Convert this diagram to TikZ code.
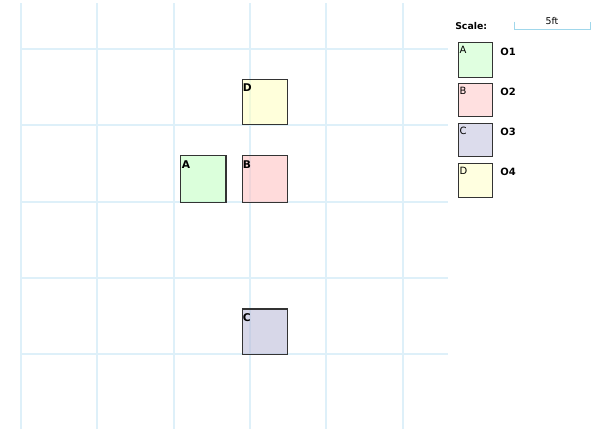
\documentclass[tikz,border=0pt]{standalone}
\usepackage{fontspec}
\setmainfont{DejaVu Sans}
\begin{document}
\begin{tikzpicture}[x=0.75pt,y=-0.75pt,
  gridline/.style={draw={rgb,255:red,222;green,240;blue,249},line width=1.5pt},
  room/.style={draw={rgb,255:red,51;green,51;blue,51},line width=0.9pt,fill opacity=0.55},
  roomlabel/.style={anchor=north west,inner sep=0pt,font=\fontsize{8}{9}\selectfont\bfseries},
  keybox/.style={draw={rgb,255:red,51;green,51;blue,51},line width=0.9pt},
  keylabel/.style={anchor=north west,inner sep=0pt,font=\fontsize{7.5}{9}\selectfont},
  keytext/.style={anchor=west,inner sep=0pt,font=\fontsize{7.5}{9}\selectfont\bfseries}]
\definecolor{cA}{RGB}{224,255,224}
\definecolor{cB}{RGB}{255,224,224}
\definecolor{cC}{RGB}{220,220,236}
\definecolor{cD}{RGB}{255,255,224}
\definecolor{cAs}{RGB}{190,255,190}
\definecolor{cBs}{RGB}{255,190,190}
\definecolor{cCs}{RGB}{182,182,214}
\definecolor{cDs}{RGB}{255,255,190}
\definecolor{scalecol}{RGB}{160,215,235}
\useasboundingbox (0,0) rectangle (601,432);
% grid
\foreach \gx in {21,97,174,250,326,403}
  \draw[gridline] (\gx,3) -- (\gx,429);
\foreach \gy in {49,125,202,278,354}
  \draw[gridline] (21,\gy) -- (448,\gy);
% rooms
\filldraw[room,fill=cDs] (242.3,79.3) rectangle (287.3,124.5);
\node[roomlabel] (lD) at (242.5,83.5) {D};
\filldraw[room,fill=cAs] (180.7,155.7) rectangle (226,202.3);
\node[roomlabel] (lA) at (181.5,160) {A};
\filldraw[room,fill=cBs] (242.3,155.7) rectangle (287.3,202.3);
\node[roomlabel] (lB) at (242.5,160) {B};
\filldraw[room,fill=cCs] (242.3,309) rectangle (287.7,354.3);
\node[roomlabel] (lC) at (242.5,313.5) {C};
% scale
\node[anchor=west,inner sep=0pt,font=\fontsize{7}{9}\selectfont\bfseries] (scale) at (455,26) {Scale:};
\draw[scalecol,line width=0.8pt] (514.5,21.5) -- (514.5,29.5) -- (590.5,29.5) -- (590.5,21.5);
\node[inner sep=0pt,font=\fontsize{7}{8}\selectfont] (ft) at (552,21.5) {5ft};
% legend
\draw[keybox,fill=cA] (458.3,42.7) rectangle (492.3,77.3);
\node[keylabel] (kA) at (459.3,46) {A};
\node[keytext] (tA) at (500,52) {O1};
\draw[keybox,fill=cB] (458.3,83.3) rectangle (492.3,116.7);
\node[keylabel] (kB) at (459.3,86.5) {B};
\node[keytext] (tB) at (500,92) {O2};
\draw[keybox,fill=cC] (458.3,123.3) rectangle (492.3,156.7);
\node[keylabel] (kC) at (459.3,126.5) {C};
\node[keytext] (tC) at (500,132) {O3};
\draw[keybox,fill=cD] (458.3,163.3) rectangle (492.3,197.3);
\node[keylabel] (kD) at (459.3,166.5) {D};
\node[keytext] (tD) at (500,172) {O4};
\end{tikzpicture}
\end{document}
